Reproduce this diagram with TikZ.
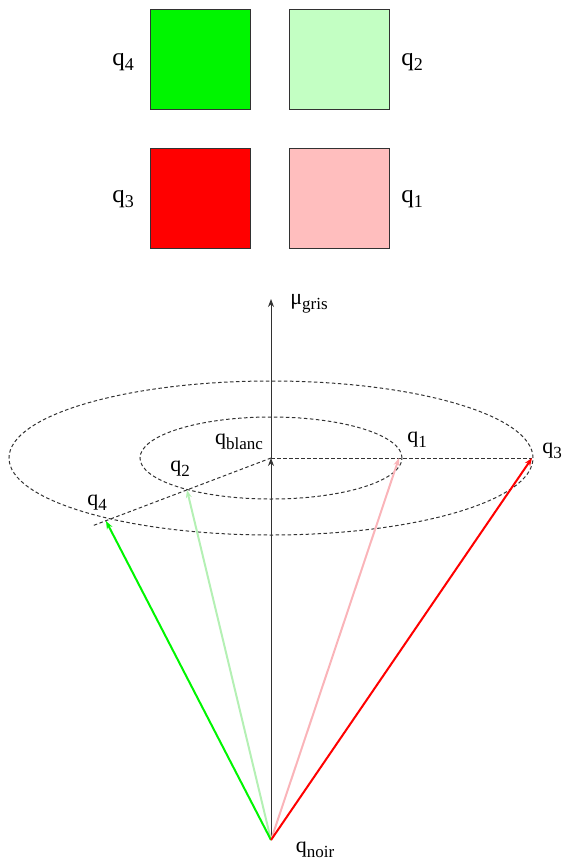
\documentclass[tikz,border=0pt]{standalone}
\usepackage{fontspec}
\setmainfont{Liberation Serif}
\usetikzlibrary{arrows.meta}
\definecolor{qgreen}{RGB}{0,245,0}
\definecolor{qlgreen}{RGB}{195,255,195}
\definecolor{qlgreenline}{RGB}{180,240,180}
\definecolor{qred}{RGB}{255,0,0}
\definecolor{qpinkline}{RGB}{250,180,185}
\definecolor{qpink}{RGB}{255,190,190}
\definecolor{axisgray}{RGB}{50,50,50}
\newcommand{\qsub}[3]{{\fontsize{#1}{#1}\selectfont q\raisebox{-0.22em}{\fontsize{#2}{#2}\selectfont #3}}}
\begin{document}
\begin{tikzpicture}[x=1pt,y=-1pt,
  swatch/.style={draw=axisgray,line width=0.9pt,minimum size=100pt,inner sep=0pt},
  lbl/.style={inner sep=0pt,anchor=center},
  dashline/.style={draw=axisgray,line width=1pt,dash pattern=on 3.5pt off 2.5pt},
  vec/.style={line width=2pt,-{Stealth[length=8pt,width=6pt]}},
  axisline/.style={draw=axisgray,line width=1pt,-{Stealth[length=8pt,width=6pt]}}]
\useasboundingbox (0,0) rectangle (562,864);
% swatches
\node[swatch,fill=qgreen] (s4) at (200.5,59.5) {};
\node[swatch,fill=qlgreen] (s2) at (339.5,59.5) {};
\node[swatch,fill=qred] (s3) at (200.5,198.5) {};
\node[swatch,fill=qpink] (s1) at (339.5,198.5) {};
\node[lbl] (l4) at (123,62) {\qsub{25pt}{18pt}{4}};
\node[lbl] (l2) at (412,62) {\qsub{25pt}{18pt}{2}};
\node[lbl] (l3) at (123,199) {\qsub{25pt}{18pt}{3}};
\node[lbl] (l1) at (412,199) {\qsub{25pt}{18pt}{1}};
% cone points
\coordinate (noir) at (271,840);
\coordinate (blanc) at (271,458);
\coordinate (top) at (271,299);
\coordinate (p1) at (399,458);
\coordinate (p3) at (532,458);
\coordinate (p2) at (187,490);
\coordinate (p4) at (106,521);
\coordinate (ext) at (92,526);
% ellipses and dashed lines
\draw[dashline] (blanc) ellipse [x radius=262pt, y radius=77pt];
\draw[dashline] (blanc) ellipse [x radius=131pt, y radius=41pt];
\draw[dashline] (blanc) -- (p3);
\draw[dashline] (blanc) -- (ext);
% axis
\draw[axisline] (noir) -- (blanc);
\draw[axisline] (blanc) -- (top);
% vectors
\draw[vec,qlgreenline] (noir) -- (p2);
\draw[vec,qpinkline] (noir) -- (p1);
\draw[vec,qgreen] (noir) -- (p4);
\draw[vec,qred] (noir) -- (p3);
% labels
\node[lbl] (lmu) at (309,304) {{\fontsize{22pt}{22pt}\selectfont μ\raisebox{-0.22em}{\fontsize{17pt}{17pt}\selectfont gris}}};
\node[lbl] (lblanc) at (239,442) {\qsub{22pt}{17pt}{blanc}};
\node[lbl] (lb1) at (417,440) {\qsub{22pt}{17pt}{1}};
\node[lbl] (lb3) at (552,451) {\qsub{22pt}{17pt}{3}};
\node[lbl] (lb2) at (180,469) {\qsub{22pt}{17pt}{2}};
\node[lbl] (lb4) at (97,503) {\qsub{22pt}{17pt}{4}};
\node[lbl] (lnoir) at (315,850) {\qsub{22pt}{17pt}{noir}};
\end{tikzpicture}
\end{document}
